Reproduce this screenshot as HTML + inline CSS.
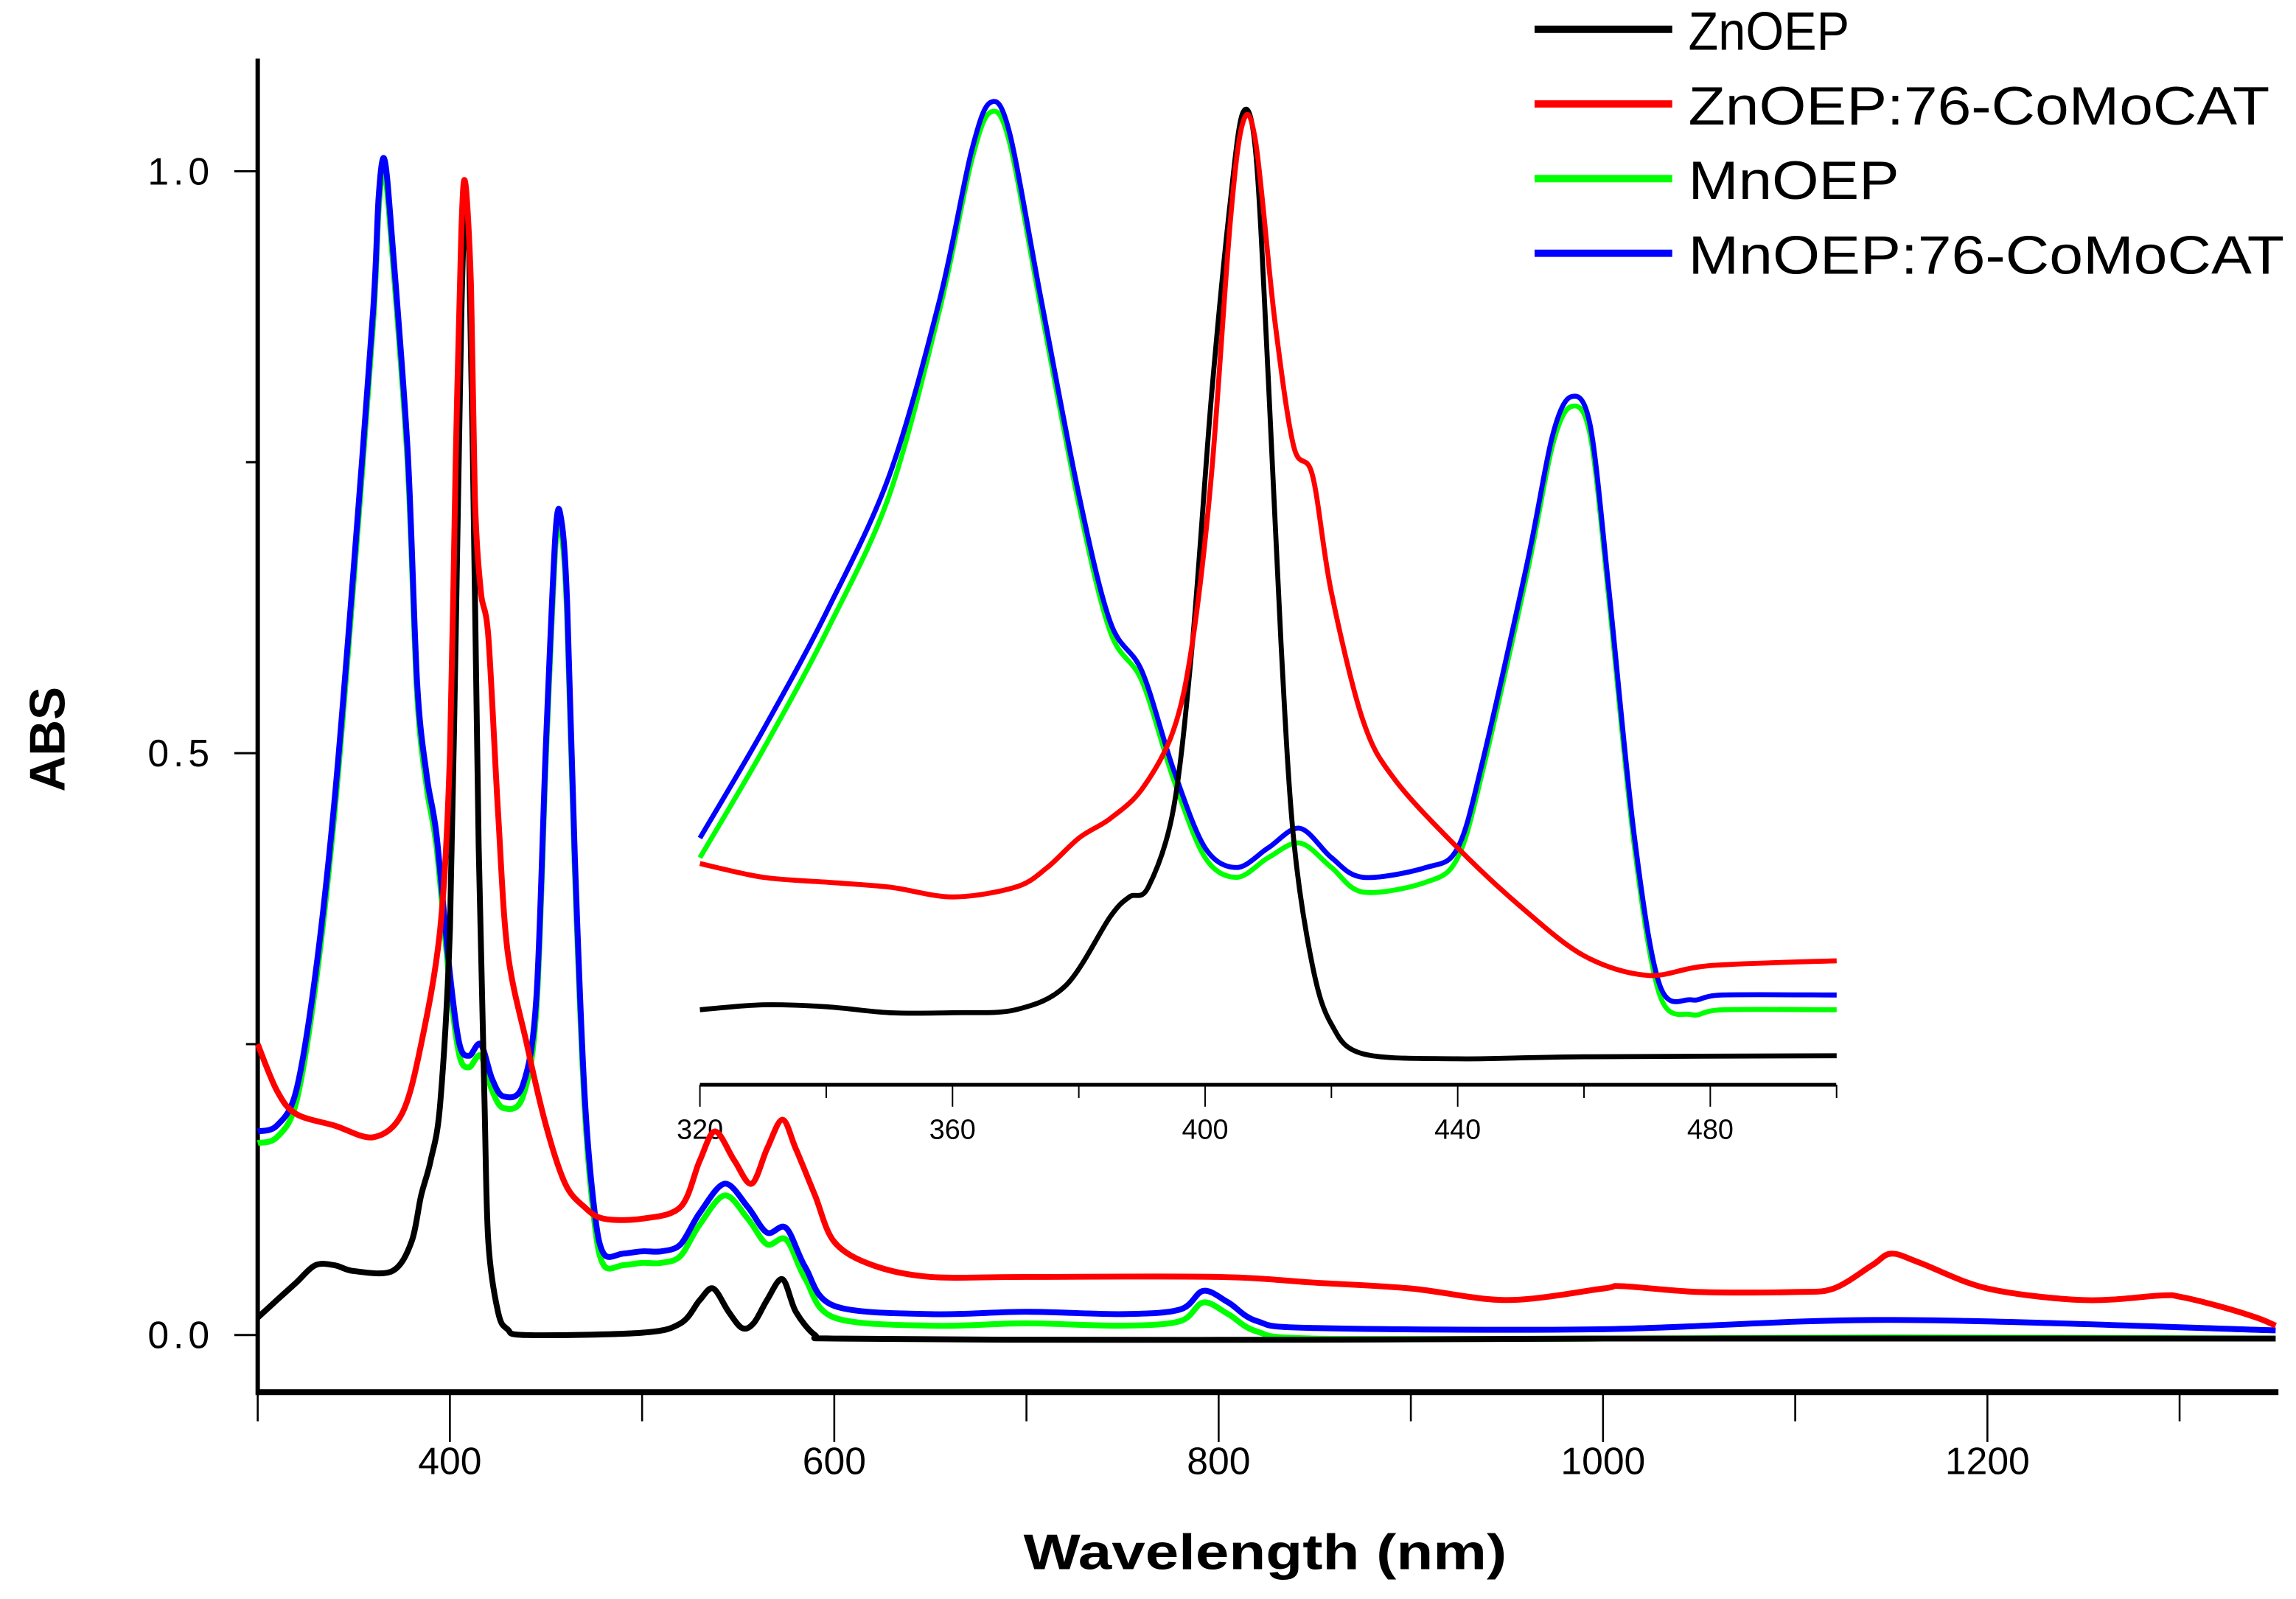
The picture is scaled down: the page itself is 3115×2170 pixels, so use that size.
<!DOCTYPE html>
<html><head><meta charset="utf-8"><style>
html,body{margin:0;padding:0;background:#fff;}
svg{display:block;font-family:"Liberation Sans",Arial,sans-serif;}
</style></head><body>
<svg id="chart" width="3115" height="2170" viewBox="0 0 1568 1092.3" xmlns="http://www.w3.org/2000/svg">
<rect width="1568" height="1092.3" fill="#fff"/>
<g id="axes"></g>
<g id="inset"></g>
<g id="series"></g>
<g id="legend"></g>
<text x="864" y="1072" text-anchor="middle" font-size="34" font-weight="bold" textLength="330" lengthAdjust="spacingAndGlyphs">Wavelength (nm)</text>
<text transform="translate(44,505) rotate(-90)" text-anchor="middle" font-size="34" font-weight="bold">ABS</text>
</svg>
<script>
// ---- main chart data ----
const blackX=[300,310,320,330,340,350,370,380,385,390,395,400,403,406,408,410,412,415,418,420,425,430,440,500,520,530,537,545,552,558,565,573,580,590,600,700,850,1000,1350];
const blackY=[0.015,0.03,0.045,0.06,0.06,0.055,0.055,0.08,0.12,0.15,0.2,0.35,0.6,0.88,0.97,0.93,0.75,0.42,0.2,0.08,0.02,0.005,0,0.002,0.01,0.03,0.04,0.02,0.006,0.01,0.03,0.048,0.02,0.0,-0.003,-0.004,-0.004,-0.003,-0.003];
const redX=[300,310,320,340,360,375,385,395,400,403,406,408,411,413,416,420,425,430,440,450,460,470,480,500,520,530,538,548,557,565,573,580,590,600,620,650,700,800,850,900,950,1000,1010,1050,1100,1120,1140,1150,1165,1200,1250,1290,1300,1320,1340,1350];
const redY=[0.25,0.21,0.19,0.18,0.17,0.19,0.25,0.35,0.5,0.75,0.95,0.99,0.9,0.72,0.64,0.6,0.45,0.33,0.25,0.18,0.13,0.11,0.1,0.1,0.11,0.15,0.175,0.15,0.13,0.16,0.185,0.16,0.12,0.08,0.06,0.05,0.05,0.05,0.045,0.04,0.03,0.04,0.042,0.037,0.037,0.04,0.06,0.07,0.062,0.04,0.03,0.034,0.033,0.025,0.015,0.008];
const mnX=[300,310,320,330,340,350,360,363,366,370,378,383,388,393,400,405,410,416,422,428,438,445,450,455,458,461,465,470,475,480,490,500,510,520,530,543,555,565,575,585,600,650,700,750,780,792,805,820,850,1000,1150,1350];
const greenY=[0.165,0.17,0.2,0.3,0.45,0.65,0.87,0.97,1.0,0.93,0.75,0.55,0.47,0.42,0.3,0.24,0.23,0.24,0.21,0.195,0.205,0.28,0.5,0.68,0.69,0.62,0.4,0.2,0.1,0.06,0.06,0.062,0.062,0.068,0.095,0.12,0.1,0.078,0.082,0.048,0.015,0.008,0.01,0.008,0.012,0.028,0.018,0.003,-0.003,-0.003,-0.002,-0.003];
const blueY=[0.175,0.18,0.21,0.31,0.46,0.66,0.88,0.98,1.01,0.94,0.76,0.56,0.48,0.43,0.31,0.25,0.24,0.25,0.22,0.205,0.215,0.29,0.51,0.69,0.7,0.63,0.41,0.21,0.11,0.07,0.07,0.072,0.072,0.078,0.105,0.13,0.11,0.088,0.092,0.058,0.025,0.018,0.02,0.018,0.022,0.038,0.028,0.012,0.006,0.005,0.013,0.004];
const xTicks=[400,600,800,1000,1200];
const yTicks=[0.0,0.5,1.0];
const yTickLabels=["0.0","0.5","1.0"];
// ---- inset data ----
const inBlackX=[320,330,340,350,360,370,378,385,388,391,395,398,401,404,406,408,410,412,414,417,420,425,440,460,500];
const inBlackY=[0.075,0.08,0.078,0.072,0.072,0.075,0.1,0.17,0.19,0.2,0.28,0.45,0.7,0.9,0.99,0.95,0.72,0.45,0.25,0.12,0.06,0.03,0.025,0.027,0.028];
const inRedX=[320,330,340,350,360,370,375,380,385,390,395,398,401,404,406,408,411,414,417,420,425,430,440,450,460,470,480,500];
const inRedY=[0.224,0.21,0.205,0.2,0.19,0.2,0.22,0.25,0.27,0.3,0.36,0.45,0.62,0.88,0.98,0.96,0.78,0.65,0.62,0.5,0.37,0.31,0.24,0.18,0.13,0.11,0.12,0.125];
const inMnX=[320,330,340,350,358,363,366,369,374,380,385,390,395,400,405,410,415,420,425,435,440,444,451,455,458,461,464,468,472,477,482,500];
const inBlueY=[0.25,0.36,0.48,0.62,0.8,0.95,1.0,0.97,0.8,0.6,0.47,0.42,0.32,0.24,0.22,0.24,0.26,0.23,0.21,0.22,0.24,0.33,0.53,0.66,0.7,0.67,0.5,0.25,0.1,0.085,0.09,0.09];
const inGreenY=[0.23,0.34,0.46,0.6,0.79,0.94,0.99,0.96,0.79,0.59,0.46,0.41,0.31,0.23,0.21,0.23,0.245,0.22,0.195,0.205,0.23,0.32,0.52,0.65,0.69,0.66,0.49,0.24,0.09,0.07,0.075,0.075];
const inTicks=[320,360,400,440,480];

const NS="http://www.w3.org/2000/svg";
function mk(tag,attrs,parent){const e=document.createElementNS(NS,tag);for(const k in attrs)e.setAttribute(k,attrs[k]);parent.appendChild(e);return e;}
const X=v=>176+(v-300)*262.5/200;
const Y=v=>912-v*795;
const IX=v=>478+(v-320)*172.5/40;
const IY=v=>740-v*670;

const axes=document.getElementById('axes');
let l=mk('line',{x1:176,y1:40,x2:176,y2:953,stroke:'#000','stroke-width':3},axes);


l=mk('line',{x1:175,y1:951,x2:1556,y2:951,stroke:'#000','stroke-width':4},axes);


for(let v=300;v<=1350;v+=100){
  const major=xTicks.includes(v);
  const t=mk('line',{x1:X(v),y1:951,x2:X(v),y2:major?985:971,stroke:'#000','stroke-width':1.3},axes);
  
  
}
xTicks.forEach(v=>{
  const t=mk('text',{x:X(v),y:1007,'text-anchor':'middle','font-size':26},axes);
  t.textContent=v;
  
  
});
[0,0.25,0.5,0.75,1.0].forEach(v=>{
  const major=yTicks.includes(v);
  const t=mk('line',{x1:major?160:168,y1:Y(v),x2:176,y2:Y(v),stroke:'#000','stroke-width':1.5},axes);
  
  
});
yTicks.forEach((v,i)=>{
  const t=mk('text',{x:146,y:Y(v)+9,'text-anchor':'end','font-size':26,'letter-spacing':'3'},axes);
  t.textContent=yTickLabels[i];
  
  
});

function path(xs,ys,fx,fy){
  const p=xs.map((x,i)=>[fx(x),fy(ys[i])]);
  let d='M'+p[0][0].toFixed(1)+' '+p[0][1].toFixed(1);
  for(let i=0;i<p.length-1;i++){
    const p0=p[Math.max(0,i-1)],p1=p[i],p2=p[i+1],p3=p[Math.min(p.length-1,i+2)];
    const t=0.16;
    const c1=[p1[0]+(p2[0]-p0[0])*t,p1[1]+(p2[1]-p0[1])*t];
    const c2=[p2[0]-(p3[0]-p1[0])*t,p2[1]-(p3[1]-p1[1])*t];
    d+=' C'+c1[0].toFixed(1)+' '+c1[1].toFixed(1)+' '+c2[0].toFixed(1)+' '+c2[1].toFixed(1)+' '+p2[0].toFixed(1)+' '+p2[1].toFixed(1);
  }
  return d;
}
const ser=document.getElementById('series');
[[mnX,greenY,'#00ff00','mnoep-line'],[mnX,blueY,'#0000ff','mnoep-comocat-line'],[blackX,blackY,'#000','znoep-line'],[redX,redY,'#ff0000','znoep-comocat-line']].forEach(s=>{
  const p=mk('path',{d:path(s[0],s[1],X,Y),fill:'none',stroke:s[2],'stroke-width':4,'stroke-linejoin':'round'},ser);
  
  
});

// inset
const ins=document.getElementById('inset');
l=mk('line',{x1:478,y1:741,x2:1254,y2:741,stroke:'#000','stroke-width':2.5},ins);


for(let v=320;v<=500;v+=20){
  const major=inTicks.includes(v);
  const t=mk('line',{x1:IX(v),y1:741,x2:IX(v),y2:major?756:750,stroke:'#000','stroke-width':1},ins);
  
  
}
inTicks.forEach(v=>{
  const t=mk('text',{x:IX(v),y:778,'text-anchor':'middle','font-size':19},ins);
  t.textContent=v;
  
  
});
[[inMnX,inGreenY,'#00ff00','inset-mnoep-line'],[inMnX,inBlueY,'#0000ff','inset-mnoep-comocat-line'],[inBlackX,inBlackY,'#000','inset-znoep-line'],[inRedX,inRedY,'#ff0000','inset-znoep-comocat-line']].forEach(s=>{
  const p=mk('path',{d:path(s[0],s[1],IX,IY),fill:'none',stroke:s[2],'stroke-width':3.4,'stroke-linejoin':'round'},ins);
  
  
});

// legend
const leg=document.getElementById('legend');
const legNames=['ZnOEP','ZnOEP:76-CoMoCAT','MnOEP','MnOEP:76-CoMoCAT'];
const legColors=['#000','#ff0000','#00ff00','#0000ff'];
const legW=[110,397,144,407];
legNames.forEach((n,i)=>{
  const y=20+i*51;
  const ln=mk('line',{x1:1048,y1:y,x2:1142,y2:y,stroke:legColors[i],'stroke-width':5},leg);
  
  
  const t=mk('text',{x:1153,y:y+14,'font-size':37,textLength:legW[i],lengthAdjust:'spacingAndGlyphs'},leg);
  t.textContent=n;
  
  
});
</script>
</body></html>
